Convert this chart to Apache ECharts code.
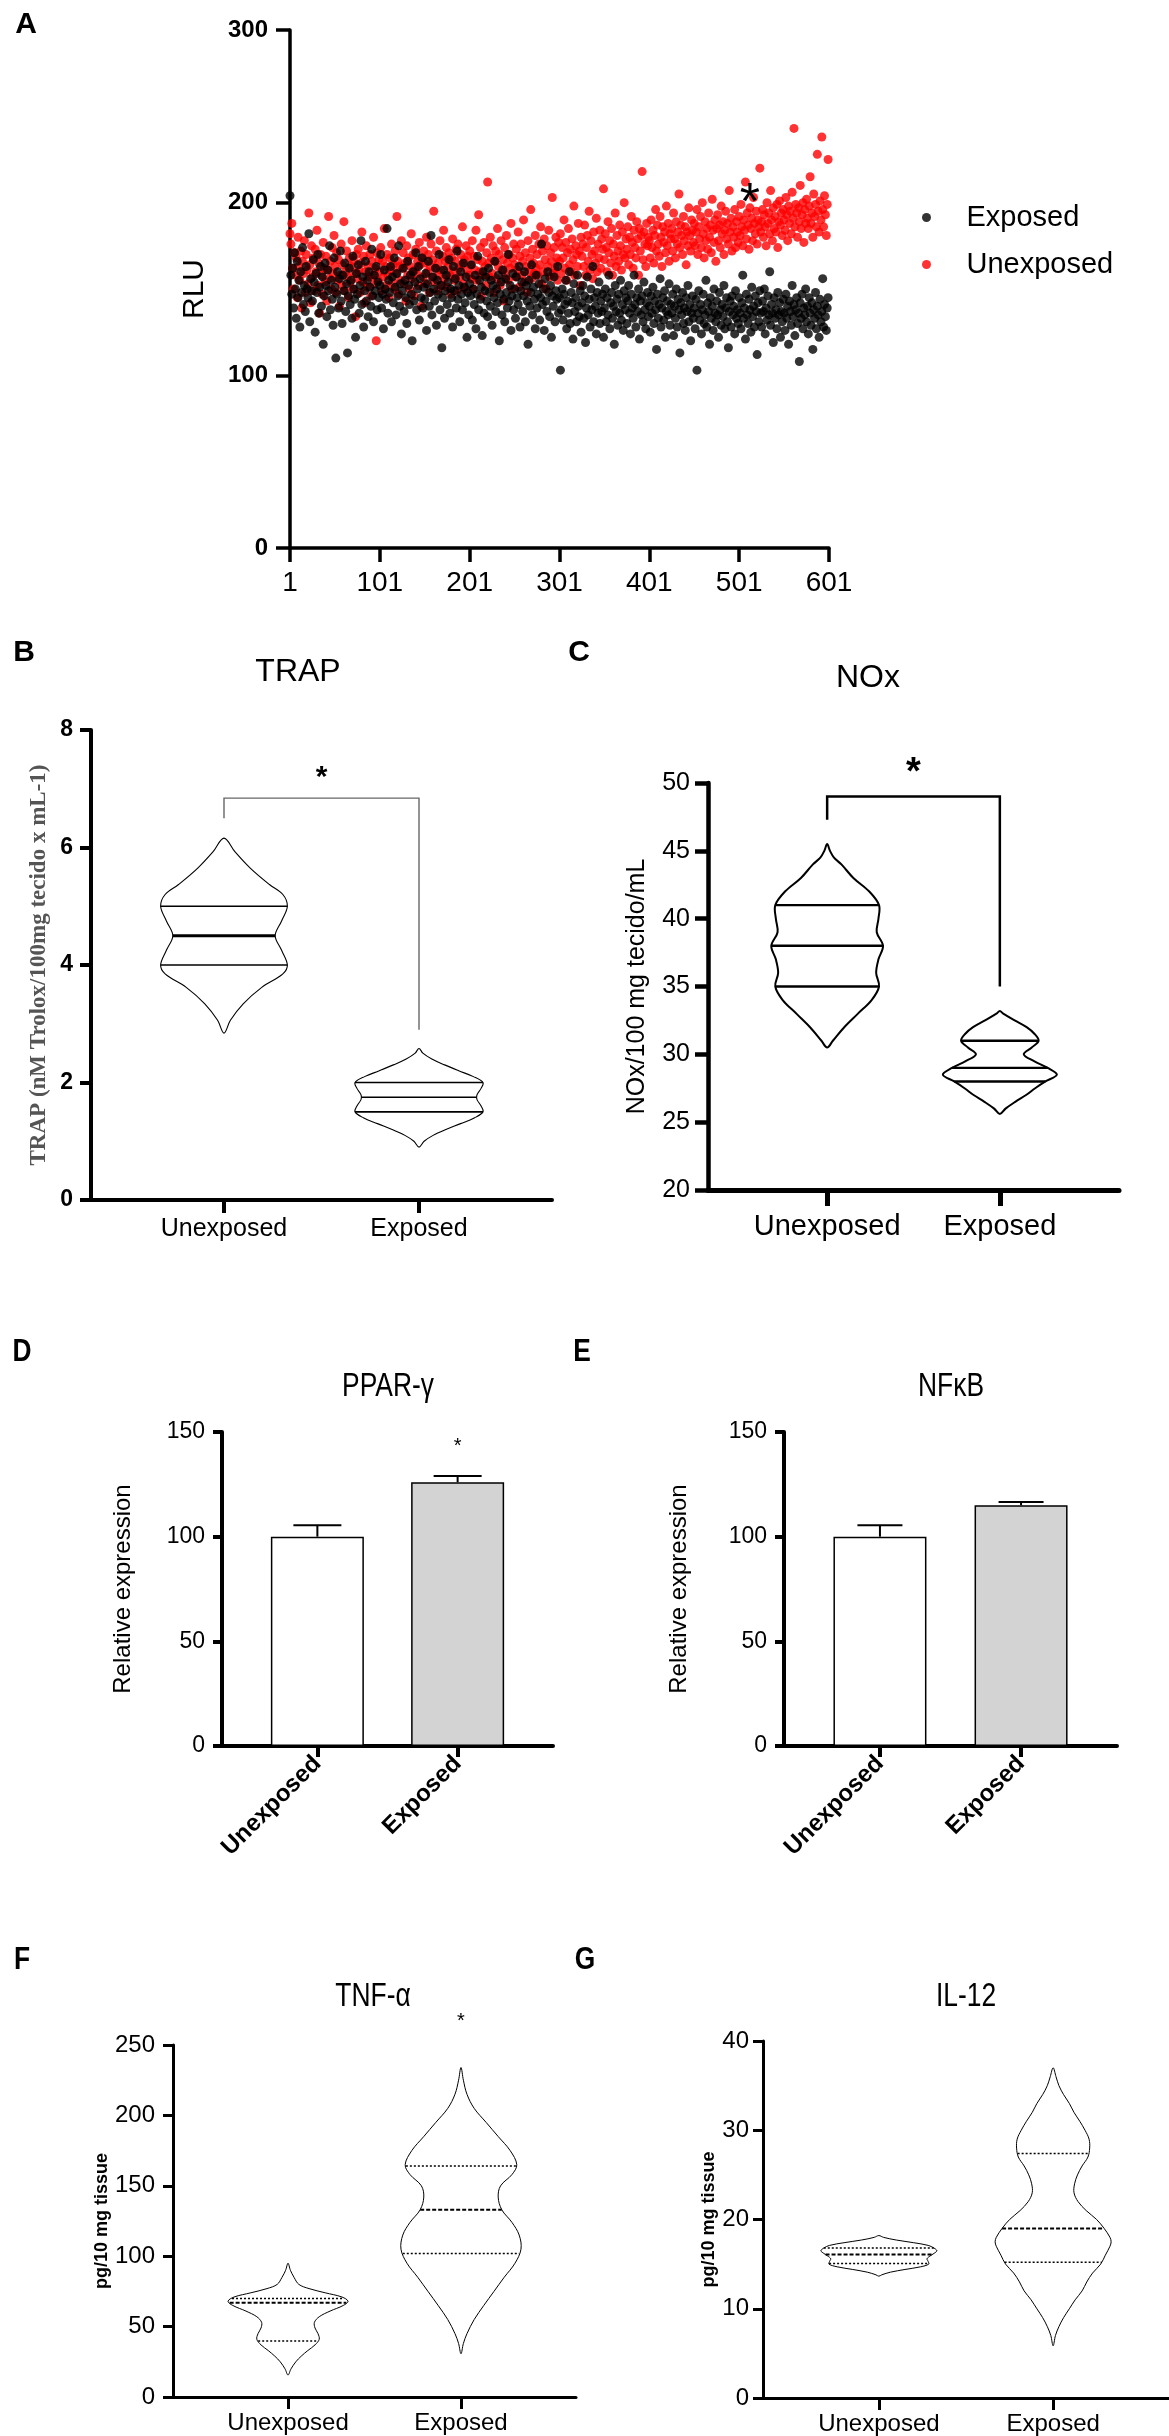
<!DOCTYPE html>
<html>
<head>
<meta charset="utf-8">
<title>Figure panels A-G</title>
<script src="https://cdn.jsdelivr.net/npm/echarts@6/dist/echarts.min.js"></script>
<style>
html, body { margin: 0; padding: 0; background: #fff; }
#chart { width: 1169px; height: 2436px; }
</style>
</head>
<body>
<div id="chart"></div>
<script>
// ---- A: RLU per reading (index 1..600) ----
var exposedRLU = [
204,158,147,162,139,171,150,133,166,145,155,128,160,148,174,141,152,137,163,150,145,182,131,156,149,
143,167,154,125,159,148,170,136,151,163,140,157,118,146,165,152,134,161,149,175,138,155,144,129,168,
151,110,147,160,139,156,172,143,130,158,149,165,137,153,113,146,162,141,155,133,169,150,144,122,159,
147,164,136,152,178,141,157,128,149,166,143,155,134,160,151,140,173,146,131,158,149,163,138,154,145,
152,170,139,147,127,161,150,144,185,136,155,148,163,131,157,142,168,151,135,159,146,175,140,153,124,
149,162,137,155,145,130,166,152,141,158,147,120,160,143,154,171,138,150,163,132,156,145,168,139,151,
144,159,126,153,166,140,148,181,135,157,150,143,162,129,155,147,170,138,152,116,145,161,133,149,158,
141,154,167,136,150,145,128,163,149,156,139,172,144,152,131,160,147,138,165,151,142,157,122,148,135,
153,146,164,132,150,141,158,127,147,169,138,155,144,151,123,160,136,149,157,143,134,162,148,140,155,
129,152,145,166,137,150,142,158,120,147,154,135,161,144,131,156,148,139,170,143,152,126,146,159,138,
150,133,157,145,141,163,128,149,154,137,146,160,131,152,143,118,155,140,148,164,135,151,144,127,158,
139,147,153,132,145,176,141,150,126,156,143,137,160,148,134,152,122,146,140,157,131,149,144,163,136,
145,103,138,150,132,147,141,155,127,143,136,160,130,148,142,121,153,137,145,131,158,140,134,149,125,
142,152,133,146,119,139,157,135,144,128,150,138,163,131,145,140,124,148,136,154,130,143,137,147,122,
139,150,131,145,135,158,127,142,148,133,140,118,152,137,144,129,147,136,155,132,141,126,149,138,145,
130,143,152,136,124,147,139,133,158,141,128,145,137,150,121,143,135,146,131,154,138,127,142,148,134,
140,125,146,136,151,130,143,138,115,147,133,141,156,128,139,145,132,149,122,137,143,135,153,129,141,
136,147,123,140,133,150,128,144,138,113,142,135,148,130,139,126,145,137,152,131,141,120,136,146,133,
139,127,144,103,136,149,132,141,124,138,147,130,135,155,128,142,137,118,145,133,140,126,150,136,131,
143,135,122,148,138,129,141,134,152,127,139,145,131,116,137,143,128,146,135,140,124,149,133,138,130,
145,136,127,142,158,133,139,121,147,135,130,144,138,125,151,134,140,128,146,137,112,142,131,149,136,
128,143,137,150,124,139,132,146,135,160,129,141,136,119,145,133,138,127,148,135,142,122,137,131,144,
136,126,147,133,140,118,143,137,129,152,134,141,123,138,145,130,136,108,142,133,147,127,139,135,150,
131,140,124,145,136,129,142,115,138,133,148,127,140,135,122,144,131,137,156,128,141,134,126,139,145
];
var unexposedRLU = [
182,176,188,162,150,171,158,168,145,180,163,155,172,139,166,159,178,148,170,161,153,194,164,142,175,
157,168,149,173,160,184,152,165,136,170,158,147,177,162,154,169,143,161,192,156,166,150,174,159,181,
163,148,171,155,167,140,158,176,152,164,189,149,160,172,157,145,168,154,163,178,150,166,159,134,170,
156,173,161,148,165,183,154,169,142,160,175,151,163,157,170,146,166,158,180,153,162,120,171,155,167,
160,174,149,166,157,185,163,152,170,158,145,168,161,176,154,164,150,172,159,192,166,147,163,155,178,
162,171,153,165,143,175,158,168,150,163,182,156,170,146,161,173,159,166,152,177,164,140,168,157,172,
165,153,180,160,170,148,163,176,157,167,195,154,162,172,149,165,158,178,161,152,169,184,156,166,174,
151,163,171,158,147,168,179,160,155,166,173,149,176,162,157,170,164,186,153,167,150,175,161,169,158,
172,164,156,178,150,169,161,184,155,167,193,160,174,146,166,158,177,163,152,171,212,165,157,180,168,
159,175,148,166,172,156,185,163,170,152,178,161,167,143,174,158,181,165,155,170,162,188,150,168,176,
164,157,173,161,183,151,169,176,158,166,190,154,171,163,148,178,160,168,196,156,173,165,159,181,162,
170,158,176,164,186,153,172,160,179,167,150,175,163,184,157,171,166,203,159,174,162,180,168,155,177,
166,182,159,174,168,190,162,177,155,171,185,164,173,160,179,167,198,158,175,170,163,188,172,152,180,
169,176,163,187,158,174,181,166,195,161,178,170,156,183,172,165,191,160,176,168,184,162,179,173,208,
167,182,174,160,189,171,178,165,185,158,176,169,194,163,181,172,166,187,175,161,183,170,200,168,179,
173,186,164,180,170,192,177,162,184,174,168,189,179,158,185,172,181,218,167,183,176,163,188,175,180,
178,168,190,174,184,165,181,196,172,187,176,169,192,180,163,186,177,183,171,198,175,188,166,182,179,
185,172,194,179,168,189,176,183,205,174,187,181,170,192,178,186,164,183,175,197,181,172,190,184,177,
188,175,183,196,170,186,179,192,174,200,182,168,189,178,185,173,194,180,187,171,202,184,177,190,166,
185,193,178,187,174,198,182,189,170,184,195,179,188,176,207,183,191,172,186,180,196,174,189,183,177,
192,181,199,186,175,190,184,212,179,194,187,173,197,185,191,178,203,188,182,195,176,190,186,220,183,
189,196,180,193,186,175,200,188,194,182,207,190,178,197,185,192,183,199,174,189,201,187,194,181,196,
190,184,203,193,178,198,188,195,182,206,191,243,186,199,194,180,197,189,210,185,193,200,177,196,188,
202,191,185,198,215,188,194,180,205,192,199,186,228,195,183,201,190,238,196,186,204,193,181,199,225
];
var xTicksA = [1, 101, 201, 301, 401, 501, 601];
var groups = ['Unexposed', 'Exposed'];

// ---- B / C / F / G: violin outlines as [value, relative width], top to bottom ----
var trapUnexp = [[6.16,0],[5.93,0.17],[5.65,0.41],[5.37,0.71],[5.2,0.92],[5.0,0.99],[4.75,0.9],[4.5,0.8],[4.25,0.9],[4.0,0.99],[3.85,0.92],[3.62,0.59],[3.34,0.3],[3.06,0.1],[2.84,0]];
var trapExp = [[2.58,0],[2.5,0.06],[2.4,0.2],[2.3,0.4],[2.2,0.62],[2.1,0.85],[2.0,1.0],[1.9,0.97],[1.8,0.91],[1.75,0.9],[1.7,0.91],[1.6,0.97],[1.5,1.0],[1.4,0.87],[1.3,0.65],[1.2,0.42],[1.1,0.22],[1.0,0.08],[0.9,0]];
var trapUnexpQ = [4.0, 4.5, 5.0];
var trapExpQ = [1.5, 1.75, 2.0];
var trapBracket = [6.5, 6.84, 2.9];
var trapStar = 7.18;

var noxUnexp = [[45.5,0],[45,0.05],[44.5,0.12],[44,0.25],[43,0.46],[42,0.74],[41,0.91],[40,0.9],[39,0.87],[38,0.98],[37,0.9],[36,0.86],[35,0.91],[34,0.78],[33,0.54],[32,0.3],[31,0.1],[30.5,0]];
var noxExp = [[33.2,0],[33,0.06],[32.5,0.26],[32,0.47],[31.5,0.61],[31,0.68],[30.5,0.56],[30,0.42],[29.5,0.6],[29,0.84],[28.5,1.0],[28,0.8],[27.5,0.62],[27,0.46],[26.5,0.27],[26,0.1],[25.6,0]];
var noxUnexpQ = [35, 38, 41];
var noxExpQ = [28, 29, 31];
var noxBracket = [47.3, 49.0, 35];
var noxStar = 50.7;

// ---- D / E: mean and top of error bar ----
var pparMean = [100, 126];
var pparErr = [105.5, 129];
var pparStar = 143;
var nfkbMean = [100, 115];
var nfkbErr = [105.5, 116.6];

var tnfUnexp = [[95,0],[90,0.04],[85,0.1],[80,0.18],[77,0.35],[74,0.62],[71,0.9],[68,1.0],[65,0.92],[61,0.7],[57,0.52],[53,0.44],[49,0.45],[45,0.5],[41,0.52],[37,0.45],[33,0.33],[29,0.22],[25,0.13],[20,0.05],[15.6,0]];
var tnfExp = [[234,0],[225,0.04],[215,0.1],[205,0.22],[195,0.42],[185,0.62],[175,0.82],[165,0.93],[158,0.85],[150,0.66],[142,0.62],[133,0.68],[124,0.85],[115,0.97],[105,1.0],[95,0.9],[85,0.72],[75,0.55],[65,0.38],[55,0.22],[45,0.1],[38,0.04],[30.7,0]];
var tnfUnexpQ = [39.7, 67, 70];
var tnfExpQ = [102, 133, 164];
var tnfStar = 267;

var il12Unexp = [[18.2,0],[18,0.08],[17.7,0.3],[17.4,0.6],[17.1,0.85],[16.8,0.95],[16.5,1.0],[16.2,0.95],[15.9,0.88],[15.6,0.83],[15.3,0.85],[15.0,0.86],[14.7,0.72],[14.4,0.45],[14.1,0.2],[13.8,0.05],[13.65,0]];
var il12Exp = [[37,0],[36,0.05],[35,0.1],[34,0.18],[33,0.28],[32,0.36],[31,0.46],[30,0.55],[29,0.62],[28,0.63],[27,0.6],[26,0.5],[25,0.42],[24,0.37],[23,0.36],[22,0.43],[21,0.57],[20,0.75],[19,0.88],[18,0.98],[17.5,1.0],[17,0.98],[16,0.9],[15,0.82],[14,0.68],[13,0.58],[12,0.5],[11,0.38],[10,0.28],[9,0.18],[8,0.1],[7,0.04],[5.85,0]];
var il12UnexpQ = [15.06, 16.07, 16.8];
var il12ExpQ = [15.2, 19.0, 27.4];

var F_R = '"Liberation Sans", Arial, sans-serif';
var F_S = '"Liberation Serif", "Times New Roman", serif';

function densityAt(profile, v) {
	for (var i = 0; i < profile.length - 1; i++) {
		var a = profile[i], b = profile[i + 1];
		if (v <= a[0] && v >= b[0]) {
			var t = (a[0] - v) / (a[0] - b[0]);
			return a[1] + t * (b[1] - a[1]);
		}
	}
	return 0;
}

function violin(grid, xPos, profile, quart, st) {
	return {
		type: 'custom', xAxisIndex: grid, yAxisIndex: grid, silent: true,
		data: [[xPos, quart[1]]],
		renderItem: function (params, api) {
			var pts = [];
			var n = profile.length;
			for (var i = 0; i < n; i++) {
				var c = api.coord([xPos, profile[i][0]]);
				pts.push([c[0] + profile[i][1] * st.half, c[1]]);
			}
			for (var j = n - 2; j > 0; j--) {
				var d = api.coord([xPos, profile[j][0]]);
				pts.push([d[0] - profile[j][1] * st.half, d[1]]);
			}
			var children = [{
				type: 'polygon', shape: { points: pts, smooth: st.smooth },
				style: { fill: null, stroke: '#000', lineWidth: st.outline }
			}];
			quart.forEach(function (q, k) {
				var c = api.coord([xPos, q]);
				var w = densityAt(profile, q) * st.half;
				var med = k === 1;
				children.push({
					type: 'line',
					shape: { x1: c[0] - w, y1: c[1], x2: c[0] + w, y2: c[1] },
					style: { stroke: '#000', lineWidth: med ? st.medW : st.qW, lineDash: med ? st.medDash : st.qDash }
				});
			});
			return { type: 'group', children: children };
		}
	};
}

function bracket(grid, br, starY, st) {
	return {
		type: 'custom', xAxisIndex: grid, yAxisIndex: grid, silent: true,
		data: [[1.5, br[1]]],
		renderItem: function (params, api) {
			var s = api.coord([1.5, starY]);
			return {
				type: 'group', children: [{
					type: 'polyline',
					shape: { points: [api.coord([1, br[0]]), api.coord([1, br[1]]), api.coord([2, br[1]]), api.coord([2, br[2]])] },
					style: { fill: null, stroke: st.color, lineWidth: st.width }
				}, {
					type: 'text', x: s[0], y: s[1],
					style: { text: '*', font: st.font, fill: '#000', align: 'center', verticalAlign: 'middle' }
				}]
			};
		}
	};
}

function star(grid, x, y, font) {
	return {
		type: 'custom', xAxisIndex: grid, yAxisIndex: grid, silent: true, z: 5,
		data: [[x, y]],
		renderItem: function (params, api) {
			var s = api.coord([api.value(0), api.value(1)]);
			return { type: 'text', x: s[0], y: s[1], style: { text: '*', font: font, fill: '#000', align: 'center', verticalAlign: 'middle' } };
		}
	};
}

function errorBars(grid, means, tops, cap, width) {
	return {
		type: 'custom', xAxisIndex: grid, yAxisIndex: grid, silent: true, z: 3,
		data: means.map(function (m, i) { return [i + 1, m, tops[i]]; }),
		renderItem: function (params, api) {
			var x = api.value(0);
			var a = api.coord([x, api.value(1)]), b = api.coord([x, api.value(2)]);
			return {
				type: 'group', children: [
					{ type: 'line', shape: { x1: a[0], y1: a[1], x2: b[0], y2: b[1] }, style: { stroke: '#000', lineWidth: width } },
					{ type: 'line', shape: { x1: b[0] - cap / 2, y1: b[1], x2: b[0] + cap / 2, y2: b[1] }, style: { stroke: '#000', lineWidth: width } }
				]
			};
		}
	};
}

function bars(grid, means) {
	var fills = ['#ffffff', '#d3d3d3'];
	return {
		type: 'bar', xAxisIndex: grid, yAxisIndex: grid, barWidth: 93, silent: true,
		data: means.map(function (m, i) {
			return { value: [i + 1, m], itemStyle: { color: fills[i], borderColor: '#000', borderWidth: 1.5 } };
		})
	};
}

function yAx(grid, min, max, interval, o) {
	return {
		type: 'value', gridIndex: grid, min: min, max: max, interval: interval,
		name: o.name, nameLocation: 'middle', nameGap: o.gap, nameRotate: 90,
		nameTextStyle: o.nameStyle,
		axisLine: { show: true, onZero: false, lineStyle: { color: '#000', width: o.lw } },
		axisTick: { show: true, inside: false, length: o.tick, lineStyle: { color: '#000', width: o.tw || o.lw } },
		axisLabel: { margin: o.margin, color: '#000', fontSize: o.fs, fontWeight: o.fw || 'normal', fontFamily: o.ff },
		splitLine: { show: false }
	};
}

function xCat(grid, o) {
	return {
		type: 'value', gridIndex: grid, min: 1 - o.pad, max: 2 + o.pad,
		axisLine: { show: true, onZero: false, lineStyle: { color: '#000', width: o.lw } },
		axisTick: { show: true, customValues: [1, 2], length: o.tick, lineStyle: { color: '#000', width: o.tw || o.lw } },
		axisLabel: {
			customValues: [1, 2], margin: o.margin, color: '#000', fontSize: o.fs, fontFamily: o.ff,
			fontWeight: o.fw || 'normal', rotate: o.rotate || 0,
			formatter: function (v) { return groups[Math.round(v) - 1]; }
		},
		splitLine: { show: false }
	};
}

function txt(s, x, y, font, sx) {
	return {
		type: 'text', x: x, y: y, scaleX: sx || 1, silent: true,
		style: { text: s, font: font, fill: '#000', align: 'center', verticalAlign: 'middle' }
	};
}

var chart = echarts.init(document.getElementById('chart'), null, { renderer: 'canvas' });

var option = {
	backgroundColor: '#ffffff',
	animation: false,
	textStyle: { fontFamily: F_R },
	graphic: [
		txt('A', 26, 25, 'bold 30px ' + F_R),
		txt('B', 24, 653, 'bold 30px ' + F_R),
		txt('C', 579, 653, 'bold 30px ' + F_R),
		txt('D', 22, 1352, 'bold 31px ' + F_R, 0.85),
		txt('E', 582, 1352, 'bold 31px ' + F_R, 0.85),
		txt('F', 22, 1960, 'bold 31px ' + F_R, 0.85),
		txt('G', 585, 1960, 'bold 31px ' + F_R, 0.85),
		txt('TRAP', 298, 672, '32px ' + F_R),
		txt('NOx', 868, 678, '32px ' + F_R),
		txt('PPAR-γ', 388, 1387, '33px ' + F_R, 0.8),
		txt('NFκB', 951, 1387, '33px ' + F_R, 0.8),
		txt('TNF-α', 373, 1997, '33px ' + F_R, 0.8),
		txt('IL-12', 966, 1997, '33px ' + F_R, 0.8)
	],
	legend: {
		data: ['Exposed', 'Unexposed'], orient: 'vertical', left: 917, top: 198,
		icon: 'circle', itemWidth: 30, itemHeight: 9, itemGap: 18,
		textStyle: { fontSize: 29, color: '#000', fontFamily: F_R, padding: [0, 0, 0, 20] }
	},
	grid: [
		{ left: 290, top: 30, width: 539, height: 518 },
		{ left: 91, top: 730, width: 461, height: 470 },
		{ left: 708, top: 783, width: 411, height: 407 },
		{ left: 222, top: 1432, width: 331, height: 314 },
		{ left: 784, top: 1432, width: 333, height: 314 },
		{ left: 173, top: 2045, width: 403, height: 352 },
		{ left: 763, top: 2041, width: 406, height: 358 }
	],
	xAxis: [
		{
			type: 'value', gridIndex: 0, min: 1, max: 601,
			axisLine: { show: true, onZero: false, lineStyle: { color: '#000', width: 3.5 } },
			axisTick: { show: true, customValues: xTicksA, length: 14, lineStyle: { color: '#000', width: 3.5 } },
			axisLabel: { customValues: xTicksA, margin: 21, color: '#000', fontSize: 28, fontFamily: F_R },
			splitLine: { show: false }
		},
		xCat(1, { pad: 0.682, lw: 4, tick: 13, margin: 17, fs: 25, ff: F_R }),
		xCat(2, { pad: 0.69, lw: 5, tick: 16, margin: 22, fs: 29, ff: F_R }),
		xCat(3, { pad: 0.68, lw: 4, tick: 11, margin: 14, fs: 24, ff: F_R, fw: 'bold', rotate: 45 }),
		xCat(4, { pad: 0.68, lw: 4, tick: 11, margin: 14, fs: 24, ff: F_R, fw: 'bold', rotate: 45 }),
		xCat(5, { pad: 0.665, lw: 3, tick: 12, margin: 14, fs: 24, ff: F_R }),
		xCat(6, { pad: 0.665, lw: 3, tick: 12, margin: 14, fs: 24, ff: F_R })
	],
	yAxis: [
		yAx(0, 0, 300, 100, { name: 'RLU', gap: 80, nameStyle: { fontSize: 30, color: '#000', fontFamily: F_R }, lw: 3.5, tick: 14, margin: 22, fs: 24, fw: 'bold', ff: F_R }),
		yAx(1, 0, 8, 2, { name: 'TRAP (nM Trolox/100mg tecido x mL-1)', gap: 40, nameStyle: { fontSize: 23, fontWeight: 'bold', color: '#555', fontFamily: F_S }, lw: 4, tick: 11, margin: 18, fs: 23, fw: 'bold', ff: F_R }),
		yAx(2, 20, 50, 5, { name: 'NOx/100 mg tecido/mL', gap: 58, nameStyle: { fontSize: 25, color: '#000', fontFamily: F_R }, lw: 4.5, tick: 13, margin: 18, fs: 25, ff: F_R }),
		yAx(3, 0, 150, 50, { name: 'Relative expression', gap: 87, nameStyle: { fontSize: 24, color: '#000', fontFamily: F_R }, lw: 4, tick: 9, margin: 17, fs: 23, ff: F_R }),
		yAx(4, 0, 150, 50, { name: 'Relative expression', gap: 93, nameStyle: { fontSize: 24, color: '#000', fontFamily: F_R }, lw: 4, tick: 9, margin: 17, fs: 23, ff: F_R }),
		yAx(5, 0, 250, 50, { name: 'pg/10 mg tissue', gap: 62, nameStyle: { fontSize: 18, fontWeight: 'bold', color: '#000', fontFamily: F_R }, lw: 3, tick: 10, margin: 18, fs: 24, ff: F_R }),
		yAx(6, 0, 40, 10, { name: 'pg/10 mg tissue', gap: 45, nameStyle: { fontSize: 18, fontWeight: 'bold', color: '#000', fontFamily: F_R }, lw: 3, tick: 10, margin: 14, fs: 24, ff: F_R })
	],
	series: [
		{
			name: 'Unexposed', type: 'scatter', xAxisIndex: 0, yAxisIndex: 0, symbolSize: 9, silent: true,
			itemStyle: { color: '#ff0000' },
			data: unexposedRLU.map(function (v, i) { return [i + 1, v]; })
		},
		{
			name: 'Exposed', type: 'scatter', xAxisIndex: 0, yAxisIndex: 0, symbolSize: 9, silent: true,
			itemStyle: { color: '#000000' },
			data: exposedRLU.map(function (v, i) { return [i + 1, v]; })
		},
		star(0, 513, 199, '52px ' + F_R),

		violin(1, 1, trapUnexp, trapUnexpQ, { half: 64, smooth: 0.35, outline: 1.1, qW: 1.6, medW: 3, qDash: null, medDash: null }),
		violin(1, 2, trapExp, trapExpQ, { half: 64, smooth: 0.35, outline: 1.1, qW: 1.6, medW: 1.6, qDash: null, medDash: null }),
		bracket(1, trapBracket, trapStar, { color: '#666', width: 1.4, font: 'bold 30px ' + F_R }),

		violin(2, 1, noxUnexp, noxUnexpQ, { half: 57, smooth: 0.35, outline: 2, qW: 2.4, medW: 2.4, qDash: null, medDash: null }),
		violin(2, 2, noxExp, noxExpQ, { half: 57, smooth: 0.35, outline: 2, qW: 2.4, medW: 2.4, qDash: null, medDash: null }),
		bracket(2, noxBracket, noxStar, { color: '#000', width: 2.5, font: 'bold 38px ' + F_R }),

		bars(3, pparMean),
		errorBars(3, pparMean, pparErr, 48, 2),
		star(3, 2, pparStar, '20px ' + F_R),
		bars(4, nfkbMean),
		errorBars(4, nfkbMean, nfkbErr, 45, 2),

		violin(5, 1, tnfUnexp, tnfUnexpQ, { half: 60, smooth: 0.35, outline: 1, qW: 1.5, medW: 2, qDash: [2, 2], medDash: [4, 2] }),
		violin(5, 2, tnfExp, tnfExpQ, { half: 60, smooth: 0.35, outline: 1, qW: 1.5, medW: 2, qDash: [2, 2], medDash: [4, 2] }),
		star(5, 2, tnfStar, '20px ' + F_R),

		violin(6, 1, il12Unexp, il12UnexpQ, { half: 58, smooth: 0.35, outline: 1, qW: 1.5, medW: 2, qDash: [2, 2], medDash: [4, 2] }),
		violin(6, 2, il12Exp, il12ExpQ, { half: 58, smooth: 0.35, outline: 1, qW: 1.5, medW: 2, qDash: [2, 2], medDash: [4, 2] })
	]
};

chart.setOption(option);
</script>
</body>
</html>
